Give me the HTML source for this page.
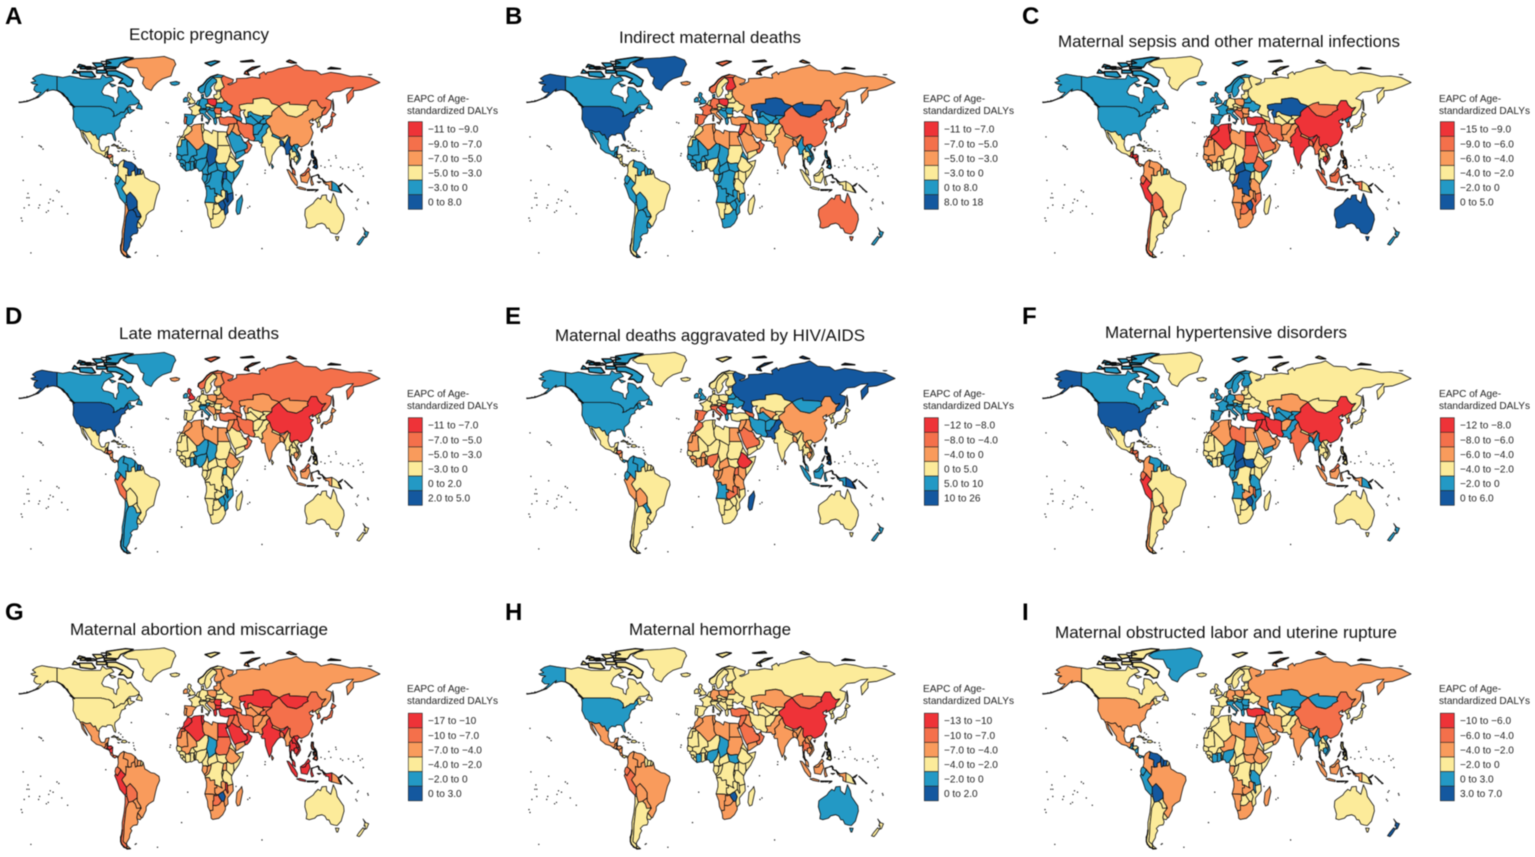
<!DOCTYPE html>
<html lang="en">
<head>
<meta charset="utf-8">
<title>EAPC of age-standardized DALYs: maternal disorders world maps</title>
<style>
html,body{margin:0;padding:0;background:#fff;}
#figure{display:block;width:1535px;height:857px;font-family:"Liberation Sans",Arial,sans-serif;filter:blur(0.4px);}
.region{stroke:#111;stroke-width:.8;stroke-linejoin:round;}
.coast{fill:none;stroke:#0a0a0a;stroke-linejoin:round;stroke-linecap:round;}
</style>
</head>
<body>
<svg id="figure" xmlns="http://www.w3.org/2000/svg" width="1535" height="857" viewBox="0 0 1535 857"></svg>
<script>
/* ---------- Data: class index per region (0 = darkest red ... 5 = dark blue) ---------- */
const regionCodes = [
'CAN','USA','GRL','MEX','GTM','BLZ','SLV','HND','NIC','CRI','PAN','CUB','HIS',
'COL','VEN','GUY','SUR','GUF','ECU','PER','BOL','BRA','PRY','URY','CHL','ARG',
'MAR','ESH','DZA','TUN','LBY','EGY','MRT','MLI','NER','TCD','SDN','SSD',
'ERI','ETH','SOM','SEN','GIN','SLE','LBR','CIV','BFA','GHA','TGO','BEN',
'NGA','CMR','CAF','GAB','COG','COD','UGA','KEN','RWA','TZA','AGO','ZMB',
'MWI','MOZ','ZWE','NAM','BWA','ZAF','MDG',
'ISL','NOR','SWE','FIN','GBR','IRL','FRA','ESP','PRT','BNL','DEU','ALP','ITA',
'POL','CZS','HUN','ROU','BGR','BAL','GRC','UKR','BLR','BLT','DNK',
'RUS','TUR','CAU','KAZ','UZB','TKM','KGT','AFG','PAK','IRN','IRQ','SYR','SAU','YEM','OMN',
'IND','NPL','BGD','LKA','CHN','MNG','PRK','KOR','JPN','TWN',
'MMR','THA','LAO','VNM','KHM','MYS','IDN','PHL','PNG','AUS','NZL'];

const classesA = [
4,4,2,3,3,3,1,1,3,3,4,3,3,
3,5,5,5,3,4,4,5,3,5,3,2,5,
3,3,2,3,3,3,4,4,4,5,3,4,
3,3,4,4,4,4,4,4,4,4,4,4,
4,4,4,4,4,4,5,4,5,4,4,3,
5,5,5,3,3,3,4,
4,4,4,3,3,4,3,4,1,4,4,4,4,
0,3,4,1,3,4,4,4,3,3,4,
1,1,4,3,4,4,4,4,4,1,2,2,4,4,1,
3,4,5,4,2,3,3,3,1,3,
5,3,4,4,3,1,2,5,4,3,4];
const classesB = [
4,5,5,4,4,4,3,3,3,3,3,3,3,
3,4,4,4,3,4,4,4,3,4,4,3,4,
3,3,2,2,2,2,4,4,4,4,3,4,
4,3,3,4,4,4,4,4,4,3,3,3,
3,4,4,3,4,4,3,3,3,3,4,4,
3,4,4,3,3,4,3,
2,1,3,0,4,4,1,1,2,3,1,3,2,
0,3,4,4,3,4,4,3,3,3,4,
2,2,4,5,4,4,4,3,3,2,2,0,2,3,1,
2,3,2,2,1,5,4,1,1,3,
4,3,4,4,4,3,3,4,3,1,4];
const classesC = [
4,4,3,3,0,3,0,0,0,1,2,3,3,
2,2,2,4,3,1,0,1,3,1,3,1,3,
0,1,0,0,2,0,2,2,3,3,1,4,
3,1,4,2,2,4,3,3,3,3,3,3,
3,3,5,3,2,5,3,3,3,2,2,2,
2,1,5,2,1,2,3,
4,4,4,3,4,4,4,4,4,4,3,3,4,
2,3,2,2,2,1,2,4,4,3,4,
3,0,3,5,3,3,3,2,2,1,1,1,1,3,2,
0,2,1,2,0,1,4,1,3,3,
1,3,2,1,0,1,1,2,3,5,4];
const classesD = [
4,5,4,3,2,3,2,1,2,2,2,3,3,
4,4,4,5,3,4,1,3,3,3,3,4,4,
2,3,2,2,2,2,3,3,4,4,3,3,
3,2,3,3,3,3,3,3,3,4,3,4,
4,3,3,3,3,3,4,3,3,3,3,3,
4,4,4,3,3,3,3,
2,1,3,2,0,4,3,3,3,3,3,4,4,
2,3,3,3,2,2,3,2,2,3,3,
1,1,1,2,3,3,3,3,3,1,1,2,3,3,1,
2,3,2,3,0,2,3,3,2,3,
3,3,3,3,2,1,2,3,3,3,3];
const classesE = [
4,4,3,3,3,3,2,1,2,3,4,3,3,
4,4,3,3,3,4,2,2,3,4,3,3,3,
1,2,3,3,3,2,2,3,3,3,3,3,
3,0,3,3,2,3,3,2,2,2,2,3,
1,3,2,2,2,2,1,2,2,2,4,1,
2,3,3,3,3,3,5,
3,3,3,3,4,4,3,1,2,3,3,3,1,
3,3,0,3,4,0,4,4,4,3,3,
5,3,1,3,2,4,3,4,5,4,2,2,1,3,3,
3,3,2,2,2,4,3,3,3,3,
3,3,2,3,2,4,4,5,5,3,4];
const classesF = [
4,5,3,3,1,3,1,1,1,2,2,3,3,
2,4,4,4,3,1,0,3,3,2,2,2,3,
2,3,2,2,1,2,3,3,4,5,3,5,
3,3,3,3,3,4,4,3,3,3,3,4,
4,4,5,4,4,3,3,3,4,4,4,2,
1,4,5,3,3,3,3,
3,4,4,4,4,4,4,4,4,4,4,4,4,
2,3,4,3,4,4,4,3,3,3,4,
3,0,4,2,4,4,4,2,4,0,0,0,2,4,2,
1,3,4,3,0,3,3,1,3,3,
4,3,3,3,3,1,2,3,4,3,4];
const classesG = [
3,3,3,2,1,2,0,0,0,1,1,3,3,
2,2,2,2,3,1,0,1,2,2,2,1,2,
0,1,0,0,2,0,2,2,3,4,1,3,
3,2,3,3,3,3,3,3,3,3,3,3,
3,3,3,2,2,3,2,3,3,3,2,2,
0,2,5,2,1,2,2,
3,3,3,2,3,2,3,2,2,3,3,3,3,
2,3,2,0,0,2,0,3,3,2,3,
2,0,2,0,2,2,1,2,2,1,1,1,0,2,0,
0,2,1,1,1,0,3,1,1,3,
2,0,0,0,0,0,0,1,2,3,3];
const classesH = [
3,4,3,2,2,2,2,2,2,2,3,3,3,
2,2,3,3,3,1,1,2,2,2,3,3,3,
2,3,2,2,2,2,3,3,3,4,2,4,
3,3,3,3,3,3,3,4,3,3,3,3,
4,3,3,3,3,3,3,3,3,3,3,3,
3,3,5,2,2,2,3,
3,3,3,3,3,3,3,3,3,3,2,3,3,
2,3,3,3,3,3,3,3,2,3,3,
3,1,3,2,3,3,3,3,2,3,2,1,1,2,1,
2,3,2,3,0,1,3,3,3,3,
2,1,2,2,2,2,2,3,3,4,3];
const classesI = [
3,2,4,2,4,3,4,3,4,2,4,3,3,
2,5,5,5,3,4,4,5,2,3,3,3,3,
3,3,3,3,2,4,3,3,2,3,2,2,
3,2,3,3,3,3,3,4,3,4,3,3,
4,3,3,2,3,3,3,3,3,4,2,2,
4,3,3,2,3,2,2,
3,3,3,3,3,3,3,3,3,3,2,3,4,
2,3,4,4,4,4,4,3,2,3,3,
2,0,4,4,3,3,4,3,3,2,2,2,2,3,2,
2,3,4,3,1,4,3,3,3,3,
4,3,3,4,4,2,2,3,3,3,5];

const panelLetters = ['A','B','C','D','E','F','G','H','I'];
const panelTitles = [
'Ectopic pregnancy','Indirect maternal deaths','Maternal sepsis and other maternal infections',
'Late maternal deaths','Maternal deaths aggravated by HIV/AIDS','Maternal hypertensive disorders',
'Maternal abortion and miscarriage','Maternal hemorrhage','Maternal obstructed labor and uterine rupture'];
const legendA = ['\u221211 to \u22129.0','\u22129.0 to \u22127.0','\u22127.0 to \u22125.0','\u22125.0 to \u22123.0','\u22123.0 to 0','0 to 8.0'];
const legendB = ['\u221211 to \u22127.0','\u22127.0 to \u22125.0','\u22125.0 to \u22123.0','\u22123.0 to 0','0 to 8.0','8.0 to 18'];
const legendC = ['\u221215 to \u22129.0','\u22129.0 to \u22126.0','\u22126.0 to \u22124.0','\u22124.0 to \u22122.0','\u22122.0 to 0','0 to 5.0'];
const legendD = ['\u221211 to \u22127.0','\u22127.0 to \u22125.0','\u22125.0 to \u22123.0','\u22123.0 to 0','0 to 2.0','2.0 to 5.0'];
const legendE = ['\u221212 to \u22128.0','\u22128.0 to \u22124.0','\u22124.0 to 0','0 to 5.0','5.0 to 10','10 to 26'];
const legendF = ['\u221212 to \u22128.0','\u22128.0 to \u22126.0','\u22126.0 to \u22124.0','\u22124.0 to \u22122.0','\u22122.0 to 0','0 to 6.0'];
const legendG = ['\u221217 to \u221210','\u221210 to \u22127.0','\u22127.0 to \u22124.0','\u22124.0 to \u22122.0','\u22122.0 to 0','0 to 3.0'];
const legendH = ['\u221213 to \u221210','\u221210 to \u22127.0','\u22127.0 to \u22124.0','\u22124.0 to \u22122.0','\u22122.0 to 0','0 to 2.0'];
const legendI = ['\u221210 to \u22126.0','\u22126.0 to \u22124.0','\u22124.0 to \u22122.0','\u22122.0 to 0','0 to 3.0','3.0 to 7.0'];

/* ---------- Geography: simplified outlines as "lon lat" vertices; "|" separates parts ---------- */
const regionShapes = {
USA:"-124.7 48.4,-123 49,-95 49,-94.6 48.7,-93 48.6,-89.6 48,-88 48,-84.8 46.8,-84 46,-82.5 45.3,-82 43,-83 42,-79 42.8,-79 43.3,-76.5 44,-75 45,-71.5 45,-70 46.7,-69 47.4,-67.8 47,-67 45,-69 44,-70.5 43,-70.7 42,-70 41.7,-74 40.5,-75.5 38,-76 37,-75.7 35.5,-77.5 34,-81 32,-81.4 30,-80 26.5,-80.4 25.2,-81.8 26,-82.8 28,-84 30,-86 30.4,-89 30.2,-90 29.2,-94 29.5,-97.2 27.5,-97.2 26,-99.3 26.5,-101.4 29.7,-103 29,-104.7 30,-106.5 31.8,-108.2 31.5,-111 31.3,-114.8 32.5,-117.1 32.5,-118.5 34,-120.6 34.6,-122.4 37.5,-124.3 40.3,-124 44,-124 46.5|-141 69.7,-141 60.3,-137.5 58.9,-133.5 56,-130 55,-131.5 55,-134 57.5,-137 58.5,-140 59.7,-145 60.5,-148.5 60,-151.5 59.3,-150 61,-153 59.5,-156 57.5,-160 55.5,-164 54.6,-161 56.2,-157.5 58.7,-162 58.7,-165 60.5,-164 63,-161 64,-166 64.6,-168 65.6,-163 66.5,-166.5 68.3,-162 70.3,-156.5 71.3,-150 70.5,-145 70",
CAN:"-141 69.7,-135 69,-128 70,-124 69.5,-115 68,-108 68,-100 68,-96 68,-94 71,-90 69,-85 69.5,-82 67,-87 65.5,-92 63,-94.7 59,-92.5 57,-88 56.5,-82.5 55,-82 52.5,-79.5 51.3,-79 54.5,-77 56,-78 59,-77.5 62.5,-73 62,-70 61,-68 58.5,-65 60,-61.5 56.5,-56 53,-56 51.7,-60 50.2,-66 50,-70 47,-65 49.2,-64.7 47,-60.5 46.5,-66 44,-67 45,-67.8 47,-69 47.4,-70 46.7,-71.5 45,-75 45,-76.5 44,-79 43.3,-79 42.8,-83 42,-82 43,-82.5 45.3,-84 46,-84.8 46.8,-88 48,-89.6 48,-93 48.6,-94.6 48.7,-95 49,-123 49,-125 50,-128 52,-130 55,-133.5 56,-137.5 58.9,-141 60.3|-80 73.7,-72 71.5,-68 70,-62 67,-64 63,-68 62.7,-72 65,-77 65,-73 68,-80 70,-89 70.5,-89 73.5|-117 70,-105 69,-101 69.5,-105 73,-118 73|-125 72,-118 72,-123 74.5|-90 76.5,-78 76,-75 79,-62 82.5,-70 83,-90 81|-92 75,-80 75,-80 76,-92 76.5|-117 75,-106 75,-106 76.5,-116 76.5|-87 65,-80 63.5,-84 62.5|-100 72,-90 72,-90 74,-100 74|-59 47.8,-53 47,-53 49,-56 51.5|-128 50.7,-125 50,-123.5 48.4|-100 76,-92 77,-95 79,-104 79|-120 76,-112 77,-118 78",
GRL:"-73 78.2,-68 76,-58 75.5,-54 70,-51 69,-52.5 65,-49 61.5,-43.5 60,-41 63,-37 65.7,-32 68,-23 70,-22 72,-20 76,-18 78,-20 81,-30 83.5,-45 82.5,-60 82,-68 80.5",
MEX:"-117.1 32.5,-114.8 32.5,-111 31.3,-108.2 31.5,-106.5 31.8,-104.7 30,-103 29,-101.4 29.7,-99.3 26.5,-97.2 26,-97.8 22.5,-96 19,-94.5 18.2,-91.5 18.5,-90.5 21,-87 21.5,-88.2 18.5,-89.1 17.8,-91 17.2,-90.5 16,-92.2 14.5,-95 16,-100 17,-105.5 20,-105.5 22.5,-109 26,-112.5 30,-114.7 31.5,-113 28,-110 24,-109.5 23,-112 25,-115 28,-116 31",
GTM:"-92.2 14.5,-90.5 16,-91 17.2,-89.1 17.8,-89 15.9,-88.2 15.7,-89.3 14.4,-90 13.8",
BLZ:"-89.1 17.8,-88.2 18.5,-88.2 16,-89 15.9",
SLV:"-90 13.8,-89.3 14.4,-87.8 13.8,-87.8 13.2",
HND:"-89.3 14.4,-88.2 15.7,-85 16,-83.2 15,-84.8 14,-87 13,-87.8 13.2,-87.8 13.8",
NIC:"-87 13,-84.8 14,-83.2 15,-83.6 11,-85.7 11",
CRI:"-85.7 11,-83.6 11,-82.6 9.5,-83 8.3,-85.5 10",
PAN:"-83 8.3,-82.6 9.5,-80 9.2,-77.4 8.7,-77.8 7.5,-79.5 8.5,-81 7.5",
CUB:"-84.9 21.9,-82 23.1,-77 21,-74.2 20.2,-77.7 19.9,-80 21.8",
HIS:"-74.4 18.4,-73 19.9,-70 19.8,-68.4 18.6,-71 18|-78.3 18.3,-76.3 18.1,-77 17.8|-67.2 18.4,-65.7 18.3,-66.5 18",
COL:"-77.4 8.7,-75.5 10.7,-72 12.2,-71.3 11,-72.5 7.4,-70 6.9,-67.5 6,-67.8 2.8,-67 1.2,-69.8 1.7,-69.5 -0.5,-70 -4.2,-73 -2.3,-75.3 -0.2,-78.5 1.5,-77.5 4,-77.8 7.5",
VEN:"-72 12.2,-68.5 11,-64 10.5,-60 8.5,-60.7 5,-64 4,-64 1.5,-67 1.2,-67.8 2.8,-67.5 6,-70 6.9,-72.5 7.4,-71.3 11",
GUY:"-60 8.5,-57.3 6,-58 2,-59.8 1.3,-60.7 5",
SUR:"-57.3 6,-54 5.8,-54.5 2.3,-56.5 2,-58 2",
GUF:"-54 5.8,-51.8 4.5,-52.8 2.2,-54.5 2.3",
ECU:"-80.3 -3.4,-81 -1.5,-80 0.8,-78.5 1.5,-75.3 -0.2,-75.5 -1.5,-78.5 -4.7",
PER:"-81.3 -4.5,-80.3 -3.4,-78.5 -4.7,-75.5 -1.5,-75.3 -0.2,-73 -2.3,-70 -4.2,-73 -6.5,-73.8 -7.5,-70.6 -11,-69 -12.5,-69 -16.5,-70.4 -18.3,-76 -14,-79 -8",
BOL:"-69 -12.5,-65.3 -10,-60.5 -13.5,-58 -16.3,-58 -20,-62.6 -22.2,-67 -23,-68.5 -19.3,-69 -16.5",
BRA:"-60.7 5,-59.8 1.3,-58 2,-56.5 2,-54.5 2.3,-52.8 2.2,-51.8 4.5,-50 0,-48 -0.7,-44 -2.5,-40 -3,-35.3 -5.2,-34.8 -8,-37.5 -12,-39 -16,-41 -22,-46 -24,-48.7 -26,-48.8 -28.5,-52.5 -33.5,-53.5 -33.7,-57.5 -30.2,-53.8 -27,-54.6 -25.5,-58 -22,-58 -20,-58 -16.3,-60.5 -13.5,-65.3 -10,-69 -12.5,-70.6 -11,-73.8 -7.5,-73 -6.5,-70 -4.2,-69.5 -0.5,-69.8 1.7,-67 1.2,-64 1.5,-64 4",
PRY:"-62.6 -22.2,-58 -20,-58 -22,-54.6 -25.5,-54.6 -27,-58.5 -27.2,-60 -24",
URY:"-58.4 -33.5,-57.5 -30.2,-53.5 -33.7,-55 -35,-58 -34.5",
CHL:"-70.4 -18.3,-69 -19,-68.5 -19.3,-67 -23,-69.5 -27,-70.5 -33,-71.5 -39,-71.7 -44,-72.5 -50,-69 -52,-68.5 -54.8,-72 -54,-75 -50,-73.5 -42,-73.5 -37,-71.5 -30,-70.4 -23",
ARG:"-67 -23,-62.6 -22.2,-60 -24,-58.5 -27.2,-54.6 -27,-53.8 -27,-57.5 -30.2,-58.4 -33.5,-58 -34.5,-57 -36.5,-58 -38.5,-62 -39,-65 -41,-63.5 -42.5,-65.5 -45,-66 -47.5,-69 -51,-68.5 -52.5,-69 -52,-72.5 -50,-71.7 -44,-71.5 -39,-70.5 -33,-69.5 -27|-68.5 -52.7,-65 -54.8,-68.6 -55.3",
MAR:"-5.9 35.8,-2 35,-1.2 32.5,-5 30,-8.7 28.7,-8.7 27.7,-13 27.7,-10 29.5,-9.5 32,-7 34",
ESH:"-13 27.7,-8.7 27.7,-8.7 26,-12 26,-12 23.4,-13 21.3,-17 21.3,-15 25",
DZA:"-2 35,1 36.5,8.6 37,8.3 34,9.5 30,10 26,12 23.5,6 19.5,3.3 19,-4.8 25,-8.7 27.2,-8.7 28.7,-5 30,-1.2 32.5",
TUN:"8.6 37,11 37,10.2 34.5,11.5 33,9.5 30,8.3 34",
LBY:"11.5 33,15 32.3,19 30.3,20 32.7,25 31.6,25 20,24 19.5,15 23,12 23.5,10 26,9.5 30",
EGY:"25 31.6,31 31.5,34.2 31.3,34.5 28,33 28.5,35.5 24,37 22,25 22",
MRT:"-17 21.3,-13 21.3,-12 23.4,-12 26,-8.7 26,-8.7 27.2,-4.8 25,-6.5 25,-5.5 15.5,-9 15.5,-12 14.8,-16.5 16.2,-16.3 19",
MLI:"-4.8 25,3.3 19,4 15.5,3.5 15.3,0 14.9,-2 14.2,-4 11,-5.5 10.4,-8 10.2,-8.5 11.5,-12 12.5,-12 14.8,-9 15.5,-5.5 15.5,-6.5 25",
NER:"3.3 19,6 19.5,12 23.5,15 23,15.5 20,13.5 14,12 13.3,8 12.9,3.6 11.7,2.4 12.2,0.5 13.5,0 14.9,3.5 15.3,4 15.5",
TCD:"15 23,24 19.5,24 15.7,22.5 13,23 11,19 9,15.5 7.5,15.2 10,14 12.5,13.5 14,15.5 20",
SDN:"25 22,37 22,38.5 18,36.5 14.5,36 12.5,34 9.7,32 10,26 9.5,23 11,22.5 13,24 15.7,24 19.5,25 20",
SSD:"23 11,26 9.5,32 10,34 9.7,33 7.8,35 5,31 3.7,28 4.5,25 5.2",
ERI:"36.5 14.5,38.5 18,43.3 12.5,43 11,42 12.3,38 14.3",
ETH:"36.5 14.5,38 14.3,42 12.3,43 11,42.9 10.9,48 8,44 4.8,41.5 3.9,39 3.5,36 4.5,35 5,33 7.8,34 9.7,36 12.5",
SOM:"43 11,44 10.5,51.2 11.9,50 8,46 2.5,41.5 -1.7,41 3.9,44 4.8,48 8",
SEN:"-16.5 16.2,-12 14.8,-12 12.5,-13.7 12,-16.7 12.4,-17.4 14.7",
GIN:"-13.7 12,-12 12.5,-8.5 11.5,-8 10.2,-8.3 7.7,-10 8.4,-10.5 9.5,-13.3 9.8,-15 11",
SLE:"-13.3 9.8,-10.5 9.5,-10 8.4,-11.5 7,-13 8",
LBR:"-11.5 7,-10 8.4,-8.3 7.7,-7.5 4.4",
CIV:"-8.3 7.7,-8 10.2,-5.5 10.4,-2.8 9.5,-3 5.1,-7.5 4.4",
BFA:"-5.5 10.4,-4 11,-2 14.2,0 14.9,0.5 13.5,2.4 12.2,0.9 11,-2.8 11",
GHA:"-2.8 11,0.9 11,0.5 8,1.2 6,-2 4.8,-3 5.1,-2.8 9.5",
TGO:"0.9 11,1.5 9.5,1.7 6.2,1.2 6,0.5 8",
BEN:"0.9 11,2.4 12.2,3.6 11.7,2.7 9,2.7 6.3,1.7 6.2,1.5 9.5",
NGA:"2.7 6.3,2.7 9,3.6 11.7,8 12.9,12 13.3,13.5 14,14 12.5,13 9,11 6.7,8.6 4.6,6 4.3,4.5 6.3",
CMR:"8.6 4.6,11 6.7,13 9,14 12.5,15.2 10,15.5 7.5,14.5 5,16 2,13 2.2,9.8 2.2,9.5 4",
CAF:"15.5 7.5,19 9,23 11,25 5.2,22 4.2,18.5 3.5,16 2,14.5 5",
GAB:"9.8 2.2,13 2.2,14.5 1.5,14 -2,11.5 -4,9 -1",
COG:"13 2.2,16 2,18.5 3.5,17.7 0,16 -3,12.2 -5,11.5 -4,14 -2,14.5 1.5",
COD:"18.5 3.5,22 4.2,25 5.2,28 4.5,31 3.7,29.8 0,29 -3,29.5 -6,30.8 -8.2,28.5 -9,28.5 -12,29.7 -13.3,25 -11.5,22 -11,21.8 -7.5,17.5 -8,16.5 -6,12.2 -6,12.2 -5,16 -3,17.7 0",
UGA:"31 3.7,34 4.2,34 0.3,33.9 -1,30.5 -1,29.8 0",
KEN:"34 4.2,35 5,36 4.5,39 3.5,41 3.9,41.5 -1.7,39.2 -4.7,33.9 -1,34 0.3",
RWA:"29.8 -1.2,30.5 -1,30.8 -2.5,30 -4.4,29.3 -4.4,29 -3",
TZA:"33.9 -1,39.2 -4.7,39 -6.5,40.4 -10.4,35 -11.5,34.5 -9.5,31 -8.7,30.8 -8.2,29.5 -6,30 -4.4,30.8 -2.5,30.5 -1",
AGO:"12.2 -6,16.5 -6,17.5 -8,21.8 -7.5,22 -11,24 -11,24 -13,22 -13,22 -16.2,23.4 -17.6,18.5 -17.4,11.8 -17.2,13.5 -12.5,13.5 -9",
ZMB:"22 -11,25 -11.5,29.7 -13.3,28.5 -12,28.5 -9,30.8 -8.2,31 -8.7,33 -9.5,33 -12,33 -14,30.4 -15.6,28 -16.5,25.3 -17.8,23.4 -17.6,22 -16.2,22 -13,24 -13,24 -11",
MWI:"33 -9.5,34.5 -9.5,35 -11.5,35 -14,35.8 -16,35 -17,33 -14,33 -12",
MOZ:"40.4 -10.4,40.8 -15,35 -20,35.5 -24,32.8 -26,32 -25.5,31.3 -22.4,32.8 -19,30.4 -15.6,33 -14,35 -17,35.8 -16,35 -14,35 -11.5",
ZWE:"25.3 -17.8,28 -16.5,30.4 -15.6,32.8 -19,31.3 -22.4,29 -22.2,26 -19",
NAM:"11.8 -17.2,18.5 -17.4,23.4 -17.6,25.3 -17.8,23.4 -18.5,21 -18.3,21 -22,20 -22,20 -28.4,17 -28.8,15 -26,14.4 -22",
BWA:"21 -18.3,23.4 -18.5,25.3 -17.8,26 -19,29 -22.2,26 -24.7,23 -25.3,20 -25,20 -22,21 -22",
ZAF:"17 -28.8,20 -28.4,20 -25,23 -25.3,26 -24.7,29 -22.2,31.3 -22.4,32 -25.5,32.8 -26,32.8 -28,30 -31.5,26 -34,20 -34.8,18.3 -34,18 -31.5",
MDG:"49.3 -12,50.4 -15.5,47.5 -24.8,45 -25.5,43.5 -23,44.5 -16.2,48 -13.5",
ISL:"-24 65.5,-18 66.3,-14 65.5,-15 64.3,-19 63.5,-22.5 64",
IRL:"-10 52,-10 54,-8 55.3,-6 55,-6 52.2",
GBR:"-5.5 50,-3 50.6,1.3 51.2,1.7 52.7,0 53.5,-1.5 55,-3 56,-2 57.6,-3.5 58.5,-5 58.6,-6 56.5,-4.8 55,-3 54,-4.5 53.3,-5 51.8,-3 51.3",
NOR:"5 60,5.5 62,10 64,14 67.5,18 69.5,25 71,31 70.3,29 69,25 69,20 69,15.5 66,13 64,12 61,11.5 59,8 58|12 79,22 80.5,27 80,18 77",
SWE:"11.5 59,12 61,13 64,15.5 66,20 69,23.6 67.5,24 65.8,21.5 65,17.5 62,18.8 60,16.7 57,14.3 55.5,13 55.5",
FIN:"20 69,25 69,29 69,28.5 68,30 65,31.5 62.5,28 60.5,23 60,21.5 61,21.5 63,24 65.8,23.6 67.5",
DNK:"8.2 57,10.5 57.5,10.5 55,8.5 55",
POL:"14.2 54,19 54.5,23.5 54,24 51.6,23 49.5,19 49.5,15 51,14.7 52.5",
DEU:"7 53.5,9 54.8,14.2 54,14.7 52.5,15 51,12.3 50,13.5 48.7,13 47.5,7.5 47.6,8 49,6 49.5,6 51",
BNL:"3.3 51.3,4.7 53,7 53.5,6 51,6 49.5,4 50,2.5 51",
FRA:"2.5 51,4 50,6 49.5,8 49,7.5 47.6,6 46.3,7.5 44,4 43.3,3 42.5,-1.8 43.4,-1.2 46,-4.7 48.4,-1.7 48.7,1.5 50|8.6 43,9.5 43,9.3 41.4,8.7 41.6",
ALP:"7.5 47.6,13 47.5,13.5 48.7,17 48.7,16.5 47,10.5 46.8,6 46.3",
CZS:"12.3 50,15 51,19 49.5,22.5 48.6,22.5 48.2,18 47.8,17 48.7,13.5 48.7",
HUN:"16.5 47,17 48.7,18 47.8,22.5 48.2,21 46.2,18.8 45.9",
ROU:"22.5 48.2,26 48,29 48,28 45.5,28.6 43.7,25 43.7,22.5 44.2,21 46.2",
BGR:"22.5 44.2,25 43.7,28.6 43.7,27.8 42,26 41.4,22.8 41.4",
BAL:"13.7 45.5,16.5 47,18.8 45.9,21 46.2,22.5 44.2,22.8 41.4,20.8 40.2,19.4 41.5,16 43.5",
GRC:"20.8 40,22.8 41.4,26 41.4,23.5 40.5,24 38,23 36.5,21.5 37",
ITA:"7.5 44,6 46.3,10.5 46.8,13.7 46.5,13.7 45.5,12.4 45,12.4 44,16 41.8,18.4 40,17 40.5,16.5 39,16 38,15.6 40,12 42,10 44|12.5 38,15.6 38.2,15 36.7|8.3 41,9.7 41,9.5 39,8.5 39",
ESP:"-9 43.7,-1.8 43.4,3 42.5,0 39.8,-0.5 38,-2 36.8,-5.5 36,-7.4 37.2,-7 39.5,-6.5 41.8,-8.8 42",
PRT:"-8.8 42,-6.5 41.8,-7 39.5,-7.4 37.2,-9 37,-9.5 38.8",
BLT:"21 55.3,21 57,24 57.5,24 58.5,23.5 59.3,28 59.5,27.7 57.5,28.5 56,26 54,23.5 54",
BLR:"23.5 54,26 54,28.5 56,31.5 53,30 51.5,24 51.6",
UKR:"24 51.6,30 51.5,31.5 53,34 52.3,35 51,40 49.5,38.5 47,35 46,33 45,30.5 46.3,28 45.5,29 48,26 48,22.5 48.2,23 49.5",
RUS:"28 60.5,31.5 62.5,30 65,28.5 68,29 69,31 70.3,33 69.5,41 67.5,40 65.5,35 64.3,37 63.8,40 64.7,44 66,44 68.3,54 68.5,60 69.3,68 68.5,67 71,72 73,74 71,75 72.5,80 73,87 75,100 76.5,105 77.7,113 74,125 73.5,130 71,140 72.5,150 71.5,160 69.7,170 70,180 69,190 65.5,180 62.5,172 60.5,163 59.8,163 56,157 51,156 57,163 62,156 61.5,150 59.5,142 59,135 54.5,141 53,140 48,135 43.5,131 42.7,130.7 42.3,131 45,135 48.4,131 47.7,127.5 50,125.5 53,120 53,117 49.6,113 50,106 50.3,98 50.5,98 52,92 50.8,87.5 49.2,85 50,80 51,77 54,71 55,61 54,61 51,55 51,47 50,47 48,49 46.3,47.5 45.5,48 41.8,46.5 41.8,40 43.5,37 45,38.5 47,40 49.5,35 51,34 52.3,31.5 53,28.5 56,27.7 57.5,28 59.5|142 54,143 50,143 46,142 47,142 51|52 71.5,57 70.7,55 73,68 76.8,60 76,53 73|95 80,100 79,105 79,98 81|137 75,150 75,140 76|178 71,182 71,180 70.7|48 80,60 81,62 80,50 79.7",
TUR:"26 41.4,28 42,31 41.2,35 42,41.5 41.5,44.5 39.7,44.8 37.2,42 37.2,36 36.7,36 36,32.5 36,27.5 36.8,26.5 39.5",
CAU:"40 43.5,46.5 41.8,48 41.8,49.5 40.5,48.8 38.5,44.5 39.7,41.5 41.5",
SYR:"36 36.7,42 37.2,41 34.5,39 32,37 29.5,35 29.5,34.2 31.3,35 33,36 35",
IRQ:"42 37.2,44.8 37.2,46 35,46 33,48.5 30,46.5 29,44.7 29.2,39 32,41 34.5",
SAU:"35 29.5,37 29.5,39 32,44.7 29.2,46.5 29,48.5 28.5,50 26.5,51.5 24.5,55 22.7,55 20,52 19,49 18.5,44 17.5,43 16.7,42.5 16.5,39 21,36.5 26",
YEM:"43 16.7,44 17.5,49 18.5,52 19,53 16.7,45 12.8,43.3 12.8",
OMN:"51.5 24.5,54 24.2,56.3 26,57 23.8,59.8 22.5,57.7 19,55 17,53 16.7,52 19,55 20,55 22.7",
IRN:"44.5 39.7,48.8 38.5,49.5 37.5,54 36.9,54 37.5,60 36.5,61 35.6,61 31.5,61 29.5,63 27,61.5 25.2,57.5 25.8,56 27,52 27.5,48.7 30.3,48.5 30,46 33,46 35,44.8 37.2",
TKM:"52.8 41.8,55.5 41.3,58.5 42.7,61 41,66 38,66.5 37.4,64.5 37,61 35.6,60 36.5,54 37.5,53.8 39.5",
UZB:"55.5 41.3,55.9 45,58.5 45.5,61 44,66 43,71 42,71 40.8,73 40.8,69 39.5,66.5 37.4,66 38,61 41,58.5 42.7",
KGT:"71 42.8,80 42.5,74 39.5,74.8 37.3,71 36.8,67.8 37.2,69 39.5,73 40.8,71 40.8,71 42",
KAZ:"47 50,55 51,61 51,61 54,71 55,77 54,80 51,85 50,87.5 49.2,83 47,80 45,80 42.5,71 42.8,71 42,66 43,61 44,58.5 45.5,55.9 45,55.5 41.3,52.8 41.8,51 44.7,53 46.7,49 46.3,47 48",
AFG:"61 35.6,64.5 37,66.5 37.4,67.8 37.2,71 36.8,74.8 37.3,71 36,69.3 33,66.5 31,66 29.8,61 29.5,61 31.5",
PAK:"61 29.5,66 29.8,66.5 31,69.3 33,71 36,74.8 37.3,77.8 35.5,74.5 32.8,74.8 31,70 27.7,71 24.3,68 23.7,66.5 25.3,61.5 25.2,63 27",
IND:"77.8 35.5,79 32.5,81 30.2,80 28.7,88 26.4,89 26.7,92 26.8,96 29.4,97.3 28,94.5 24.5,93 22,92.2 24,91.5 25,89 26,88 24.5,88.8 21.7,87 21.2,85 19.7,80.3 15,80 12,77.6 8.1,76 11,73.5 16,72.8 21,70 21,69 22.5,71 24.3,70 27.7,74.8 31,74.5 32.8",
NPL:"80 28.7,81 30.2,88 27.8,88 26.4",
BGD:"88 24.5,89 26,91.5 25,92.2 24,92.5 21,90 22,88.8 21.7",
LKA:"79.8 9.5,81.8 7.5,80.5 6,79.8 7.5",
CHN:"74 39.5,80 42.5,80 45,83 47,87.5 49.2,91 46,96 42.8,105 41.6,111 43.7,112 45,117 46.8,116 48,117 49.6,120 53,125.5 53,127.5 50,131 47.7,135 48.4,131 45,130.7 42.3,128 41.5,124.3 40,121 38.8,122 40.7,118 39,119 37.5,122.5 37,119.5 35,122 31,120 27,117 23.5,113 22,110 21,108 21.7,106 23,102 22.5,101.5 21.3,99 22,98 24,98.5 28,97.3 28,96 29.4,92 27.8,89 27.5,88 27.8,81 30.2,79 32.5,77.8 35.5,74.8 37.3|108.8 19.5,110.8 20,110 18.3",
MNG:"87.5 49.2,92 50.8,98 52,98 50.5,106 50.3,113 50,117 49.6,116 48,117 46.8,112 45,111 43.7,105 41.6,96 42.8,91 46",
PRK:"124.3 40,128 41.5,130.7 42.3,129.7 41,127.5 39.7,128.3 38.6,126 37.8,125 38.5",
KOR:"126 37.8,128.3 38.6,129.4 36,128.5 35,126.3 34.5,126.6 37",
JPN:"130.9 34,133 35.5,136 35.7,139 37.5,140 40,141.4 41.3,142 39.5,140.8 35.7,137 34.6,135.5 33.7,133 34.3|140 41.6,141.5 45.3,145.3 43.5,143 42|130 33.5,131.8 33.5,131 31,130 32",
TWN:"121 25,121.8 24.5,120.8 22,120 23.5",
MMR:"92.5 21,93 22,94.5 24.5,97.3 28,98.5 28,98 24,99 22,101 21.3,100 20,97.8 18,98.8 16,98 13,99 10,98.5 12,97.5 16.5,95.5 15.8,94.3 16,94 19",
THA:"97.8 18,100 20,101 19,101 17.7,102.5 18,104.5 17.5,105.5 15,102.5 14,102.8 12,101 12.8,100 13.4,99.5 10,100.5 7,102 6,100.8 5.8,99 8,98.3 8,99 10,98 13,98.8 16",
LAO:"100 20,101 21.3,102 22.5,104 20,106.5 17,107.5 15.5,106 14,105.5 15,104.5 17.5,102.5 18,101 17.7,101 19",
VNM:"102 22.5,106 23,108 21.7,106 20,105.8 19,108.5 16,109.3 13,107 10.5,105 8.8,104.8 10.3,106 11.5,107.5 13,107.5 15.5,106.5 17,104 20",
KHM:"102.5 14,105.5 15,106 14,107.5 13,106 11.5,104.8 10.3,103 11,102.8 12",
MYS:"100.8 5.8,102 6,103.5 4.5,104 1.4,101 3|109.7 1.8,111.5 2.7,113 3.2,115.5 5.3,117 7,119 5.3,117.7 4.2,115.5 3.5,114 1.5,111 1",
IDN:"95.3 5.5,97.5 5.2,103.5 0,106 -3,105.8 -5.8,104 -5,100 -1.5|109 1.5,109.7 1.8,111 1,114 1.5,115.5 3.5,117.7 4.2,119 1,116 -3.8,114.5 -3.5,110 -3|105.2 -6.8,108.5 -6.5,114.5 -7.8,114.3 -8.7,108 -7.8|119.5 -3,119.8 0.5,125 1.5,120.8 0.3,121 -2,122.5 -4.8,120.5 -5.5|131 -0.8,135 -3.3,141 -2.6,141 -9,138 -8,138 -5.5,133 -4|116 -8.2,119 -8.4,119 -9,116 -9|120 -8.3,123 -8.3,123 -8.8,120 -9|124 -9.8,127 -8.4,126 -9.2|127.5 2,128.5 1,127.7 -0.5|126 -3,130 -3,128 -3.8",
PHL:"120.5 18.5,122.2 18.4,122 16,124 12.7,121 13.7,120 16|122 7,123.7 8.6,125.5 9.7,126.5 7,125.5 6,124 6.5|122 11.7,125 12,125 10,122.5 9.5|117.2 8.4,119.5 11.3,118.5 9",
PNG:"141 -2.6,145 -4.3,147.5 -6,148 -8,150.8 -10.5,147 -10,143 -9.2,141 -9|148.5 -5.7,152 -4.2,150 -6",
AUS:"114 -22,116 -20.8,122 -18,124 -16,127 -14,129.5 -15,131 -12.3,135.5 -12,135.8 -15,140 -17.5,141.7 -13,142.5 -10.8,145.5 -15,146.5 -19,150 -22.5,153 -25.5,153.5 -29,150.5 -36,146.5 -39,143.5 -38.7,140 -38,138 -35,136 -35,134 -32.5,131 -31.5,126 -32.3,123.5 -34,118 -35,115 -34.3,115.7 -31,113.5 -26|144.7 -40.7,148.3 -40.9,147 -43.5,146 -43.5",
NZL:"172.7 -34.5,175.5 -37,178.5 -37.7,176.5 -41,175 -41.5,175 -39,173.8 -39.3,174.7 -37|172.7 -40.5,174.3 -41.5,171 -45,169 -46.6,166.5 -46,168.5 -44"
};
/* Fine, dense coastlines drawn as heavy black traces over the fills */
const coastTraces = [
"-180 51.7,-172 52.5,-165 54.3,-160 55.5",
"-140 59.7,-135 58,-132 55.5,-128 52,-125 50,-123 48.5",
"-80 73.7,-72 71.5,-68 70,-62 67,-64 63,-68 62.7,-72 65,-77 65,-73 68,-80 70,-89 70.5,-89 73.5,-80 73.7",
"-117 70,-105 69,-101 69.5,-105 73,-118 73,-117 70",
"-90 76.5,-78 76,-75 79,-62 82.5,-70 83,-90 81,-90 76.5",
"-92 75,-80 75,-80 76,-92 76.5,-92 75",
"-117 75,-106 75,-106 76.5,-116 76.5,-117 75",
"-100 72,-90 72,-90 74,-100 74,-100 72",
"-100 76,-92 77,-95 79,-104 79,-100 76",
"-125 72,-118 72,-123 74.5,-125 72",
"-120 76,-112 77,-118 78,-120 76",
"-93 78,-85 79,-88 80,-95 80",
"-110 74.5,-100 75,-103 76,-112 75.8",
"-75 -47,-75 -50,-74 -52,-71 -54,-68 -55,-65 -54.9",
"-73.5 -42,-74 -45,-75 -47",
"5 60,5.5 62,10 64,14 67.5,18 69.5,25 71",
"12 79,22 80.5,27 80,18 77,12 79",
"48 80,60 81,62 80,50 79.7,48 80",
"52 71.5,57 70.7,55 73,68 76.8,60 76,53 73,52 71.5",
"95 80,100 79,105 79,98 81,95 80",
"137 75,150 75,140 76,137 75",
"120.5 18.5,122.2 18.4,122 16,124 12.7,121 13.7,120 16,120.5 18.5",
"122 7,123.7 8.6,125.5 9.7,126.5 7,125.5 6,124 6.5,122 7",
"122 11.7,125 12,125 10,122.5 9.5,122 11.7",
"123 10.5,124 14,125.5 12,126 8",
"117.2 8.4,119.5 11.3",
"98.5 12,99 8,100.5 6",
"125 1.5,127 2,128 0,130 -1",
"131 -0.8,133 -3,135 -3.3",
"147.5 -6,150 -9,150.8 -10.5",
"148.5 -5.7,152 -4.2",
"154 -5,157 -7,160 -9,162 -10",
"116 -8.5,123 -8.5,127 -8.5"
];
const isletLons = [-155.5,-157,-158,-159.5,-90.5,-24,-23.5,-16,-14,-28,-26,73,73.2,55,57.5,55.5,165.5,166.5,167,168,178,177.5,160,158,161,150,152,158,163,145,145.5,172,173,-175,-172,-171,-170,-149.5,-148,-145,-141,-139,-136,-160,-159,-158,-176,-177,-178,-168,-172,-175,-178,-180,-165,-163,-12,-5.7,-59,-60,-37,-77,-75,-73,-61,-60,-61.5,-177,-170,-152,-150,-130,70,50,43.5,-64,-88,-17,134,138,168,170,-78,-62,120,123,130,140,135];
const isletLats = [19.6,21,21.5,22,-0.5,15,16.5,28,28.5,38,37.5,3,5,-4.7,-20,-21,-21,-22,-16,-15,-18,-17,-9,-8,-10,7,6,7,5,15,13.5,7,1,-21,-14,-11,-14,-17.5,-15,-16,-9,-10,-20,-21,-19,-5,-2,-30,-28,-52,53,52.5,52,52,54.5,55,-37,-16,-51.5,-52,-54,25,24,22,14,13,16,28,-19,-24,-23,-25,-49,26,-12,32,14,66,7,12,9,6,22,18,12,10,8,8,-5];

/* ---------- Styling and layout ---------- */
const palette = ['#EE3338','#F4704B','#F99B5C','#FCEB9A','#2399C5','#14589F'];
const columnOrigin = [193.2,704.3,1220.3];
const columnScaleWest = [0.966,0.985,0.985];
const columnScaleEast = [0.983,1.004,1.004];
const rowOrigin = [177.5,473.5,769];
const letterX = [5,505,1022];
const letterBaseline = [24,324,620];
const legendX = [407,923,1439];
const legendTitleY = [102,397,692];
const legendSwatchTop = [121.7,417.7,713.2];
const titleExtents = [[129,140,40],[619,182,43],[1058,342,47],[119,160,339],[555,310,341],[1105,242,338],[70,258,635],[629,162,635],[1055,342,638]];

const classesByPanel = [classesA,classesB,classesC,classesD,classesE,classesF,classesG,classesH,classesI];
const legendsByPanel = [legendA,legendB,legendC,legendD,legendE,legendF,legendG,legendH,legendI];
const NS = 'http://www.w3.org/2000/svg';
const svg = document.getElementById('figure');

function make(tag, parent, props) {
  const el = document.createElementNS(NS, tag);
  Object.keys(props || {}).forEach(function (k) { el.setAttribute(k, props[k]); });
  parent.appendChild(el);
  return el;
}
function lonScale(col) {
  return function (lon) { return columnOrigin[col] + (lon < 0 ? columnScaleWest[col] : columnScaleEast[col]) * lon; };
}
function latScale(row) { return function (lat) { return rowOrigin[row] - 1.45 * lat; }; }
function partPath(part, sx, sy) {
  return 'M' + part.split(',').map(function (pt) {
    const c = pt.split(' ');
    return sx(+c[0]).toFixed(1) + ' ' + sy(+c[1]).toFixed(1);
  }).join('L');
}
function shapePath(shape, sx, sy) {
  return shape.split('|').map(function (part) { return partPath(part, sx, sy) + 'Z'; }).join('');
}
function classColor(v) {
  return palette[Math.max(0, Math.min(palette.length - 1, Math.round(v)))];
}

panelLetters.forEach(function (letter, p) {
  const col = p % 3, row = Math.floor(p / 3);
  const sx = lonScale(col), sy = latScale(row);
  const panel = make('g', svg, {});
  
  

  const tag = make('text', panel, {x: letterX[col], y: letterBaseline[row], 'font-size': 24, 'font-weight': 'bold', fill: '#000'});
  tag.textContent = letter;
  
  

  const ext = titleExtents[p];
  const title = make('text', panel, {x: ext[0], y: ext[2], 'font-size': 16.5, fill: '#111', textLength: ext[1], lengthAdjust: 'spacingAndGlyphs'});
  title.textContent = panelTitles[p];
  
  

  const map = make('g', panel, {});
  
  
  regionCodes.forEach(function (code, i) {
    const path = make('path', map, {d: shapePath(regionShapes[code], sx, sy), fill: classColor(classesByPanel[p][i]), 'class': 'region'});
    
    
  });
  coastTraces.forEach(function (trace) {
    const line = make('path', map, {d: partPath(trace, sx, sy), 'class': 'coast', 'stroke-width': 1.3});
    
    
  });
  isletLons.forEach(function (lon, i) {
    const dot = make('circle', map, {cx: sx(lon).toFixed(1), cy: sy(isletLats[i]).toFixed(1), r: 0.7, fill: '#222'});
    
    
  });

  const legend = make('g', panel, {});
  
  
  const lx = legendX[col], ly = legendTitleY[row], top = legendSwatchTop[row];
  ['EAPC of Age-', 'standardized DALYs'].forEach(function (line, i) {
    const t = make('text', legend, {x: lx, y: ly + i * 12, 'font-size': 10.07, fill: '#222'});
    t.textContent = line;
    
    
  });
  legendsByPanel[p].forEach(function (label, i) {
    const y = top + i * 14.6;
    const sw = make('rect', legend, {x: lx + 1.3, y: y.toFixed(1), width: 14, height: 14.6, fill: palette[i], stroke: '#222', 'stroke-width': 0.6});
    
    
    const t = make('text', legend, {x: lx + 21, y: (y + 11).toFixed(1), 'font-size': 10.1, fill: '#222'});
    t.textContent = label;
    
    
  });
});
</script>
</body>
</html>
